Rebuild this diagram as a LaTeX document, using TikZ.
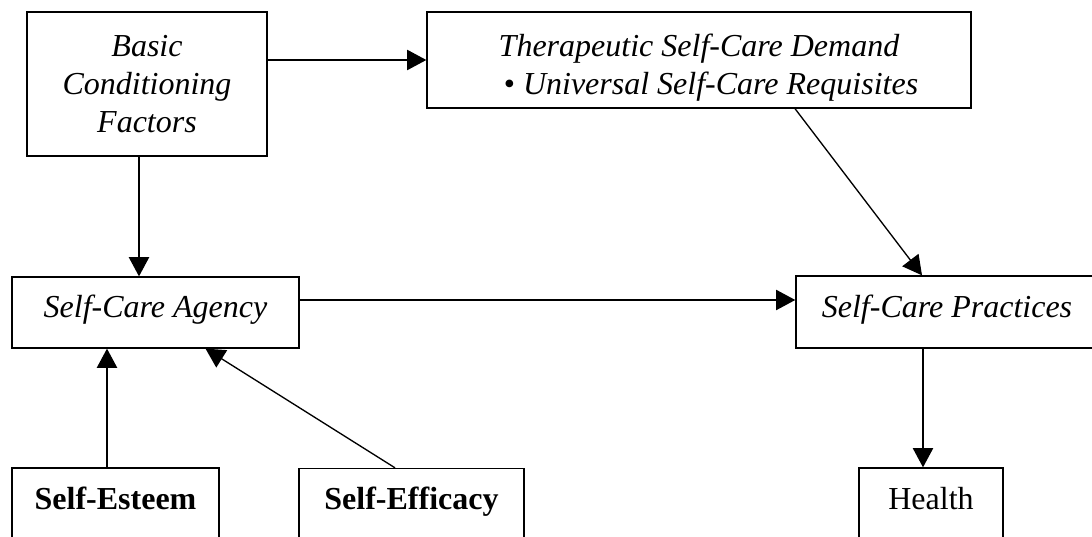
\documentclass[tikz,border=0pt]{standalone}
\usepackage{fontspec}
\setmainfont{Liberation Serif}
\usetikzlibrary{arrows.meta,calc}
\begin{document}
\begin{tikzpicture}[x=0.375pt,y=0.375pt,line width=0.5pt,>={Triangle[length=7.2pt,width=7.6pt]}]
\tikzstyle{every node}+=[inner sep=0pt,font=\fontsize{12}{14.2}\selectfont]
\tikzstyle{box}=[draw=black,rectangle,align=center]
\tikzstyle{oneline}=[box,text height=0.7em,text depth=0.3em]
\clip (0,0) rectangle (1092,-537);
\node [box,minimum width=90pt,minimum height=54pt] (bcf) at (147,-84) {\itshape Basic\\\itshape Conditioning\\\itshape Factors};
\node [box,minimum width=204pt,minimum height=36pt] (ther) at (699,-60) {\rule{0pt}{14pt}\itshape Therapeutic Self-Care Demand\\\hspace*{9pt}\textbullet{} \itshape Universal Self-Care Requisites};
\node [oneline,minimum width=107.6pt,minimum height=26.6pt] (agency) at (155.5,-312.5) {\itshape Self-Care Agency};
\node [oneline,minimum width=113.3pt,minimum height=27pt] (practices) at (947,-312) {\itshape Self-Care Practices};
\node [oneline,minimum width=77.6pt,minimum height=27pt] (esteem) at (115.5,-504) {\bfseries Self-Esteem};
\node [oneline,minimum width=84.4pt,minimum height=27pt] (efficacy) at (411.5,-504.5) {\bfseries Self-Efficacy};
\node [oneline,minimum width=54pt,minimum height=27pt] (health) at (931,-504) {Health};
\coordinate (c1) at ($(bcf.south)+(-8,0)$);
\coordinate (c2) at ($(agency.east)+(0,12.5)$);
\coordinate (c3) at ($(health.north)+(-8,0)$);
\coordinate (c4) at ($(esteem.north)+(-8.5,0)$);
\draw [black,->] (ther.west -| bcf.east) -- (ther.west);
\draw [black,->] (c1) -- (c1 |- agency.north);
\draw [black,->] ($(ther.south)+(96,0)$) -- ($(practices.north)+(-25,0)$);
\draw [black,->] (c2) -- (c2 -| practices.west);
\draw [black,->] (c3 |- practices.south) -- (c3);
\draw [black,->] (c4) -- (c4 |- agency.south);
\draw [black,->] ($(efficacy.north)+(-16.5,0)$) -- ($(agency.south)+(50,0)$);
\end{tikzpicture}
\end{document}
